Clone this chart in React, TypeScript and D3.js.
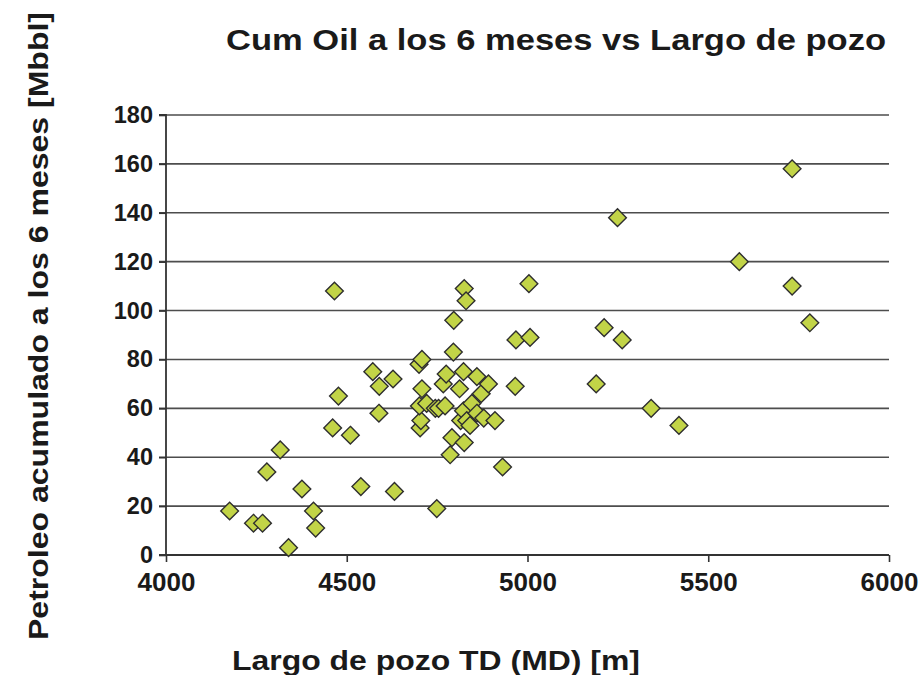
import React, { useEffect, useRef } from "react";
import * as d3 from "d3";

const wellLength: number[] = [
  4176, 4242, 4267, 4279, 4316, 4339, 4376, 4408, 4414, 4461, 4466, 4477, 4510,
  4539, 4572, 4589, 4590, 4628, 4632, 4700, 4703, 4705, 4701, 4708, 4708, 4721,
  4745, 4749, 4754, 4767, 4772, 4775, 4786, 4791, 4795, 4796, 4812, 4815, 4823,
  4823, 4825, 4825, 4830, 4832, 4841, 4846, 4860, 4860, 4872, 4879, 4892, 4910,
  4931, 4966, 4968, 5004, 5007, 5190, 5212, 5249, 5262, 5342, 5419, 5586, 5732,
  5732, 5781,
];
const cumOil: number[] = [
  18, 13, 13, 34, 43, 3, 27, 18, 11, 52, 108, 65, 49,
  28, 75, 58, 69, 72, 26, 78, 52, 55, 61, 80, 68, 62,
  60, 19, 60, 70, 61, 74, 41, 48, 83, 96, 68, 55, 75,
  59, 46, 109, 104, 55, 53, 62, 73, 58, 66, 56, 70, 55,
  36, 69, 88, 111, 89, 70, 93, 138, 88, 60, 53, 120, 158,
  110, 95,
];
const xTicks: number[] = [4000, 4500, 5000, 5500, 6000];
const yTicks: number[] = [0, 20, 40, 60, 80, 100, 120, 140, 160, 180];

const title = "Cum Oil a los 6 meses vs Largo de pozo";
const xTitle = "Largo de pozo TD (MD) [m]";
const yTitle = "Petroleo acumulado a los 6 meses [Mbbl]";

export default function App() {
  const ref = useRef<SVGSVGElement | null>(null);

  useEffect(() => {
    const svg = d3.select(ref.current);
    svg.selectAll("*").remove();
    const W = 922;
    const H = 675;
    const left = 166;
    const right = 889;
    const top = 115;
    const bottom = 555;
    const font = "'Liberation Sans', Arial, Helvetica, sans-serif";

    const x = d3.scaleLinear().domain([4000, 6000]).range([left, right]);
    const y = d3.scaleLinear().domain([0, 180]).range([bottom, top]);

    svg.attr("width", W).attr("height", H);
    svg.append("rect").attr("width", W).attr("height", H).attr("fill", "#fff");

    // gridlines
    const grid = svg.append("g");
    grid
      .selectAll("line")
      .data(yTicks.filter((t) => t > 0))
      .join("line")
      .attr("x1", left - 7)
      .attr("x2", right)
      .attr("y1", (d) => y(d))
      .attr("y2", (d) => y(d))
      .attr("stroke", "#4d4d4d")
      .attr("stroke-width", 1.6);

    // y axis
    const yAxis = svg.append("g").attr("transform", `translate(${left},0)`);
    yAxis.call(
      d3
        .axisLeft(y)
        .tickValues(yTicks)
        .tickSize(7)
        .tickPadding(6)
        .tickFormat((d) => String(d))
    );
    yAxis.select(".domain").attr("stroke", "#333").attr("stroke-width", 1.8).attr("d", `M-7,${top}H0V${bottom}`);
    yAxis.selectAll(".tick line").attr("stroke", "#333").attr("stroke-width", 1.6);
    yAxis
      .selectAll(".tick text")
      .attr("font-family", font)
      .attr("font-weight", "bold")
      .attr("font-size", 23.5)
      .attr("fill", "#1a1a1a");

    // x axis
    const xAxis = svg.append("g").attr("transform", `translate(0,${bottom})`);
    xAxis.call(
      d3
        .axisBottom(x)
        .tickValues(xTicks)
        .tickSize(7)
        .tickPadding(11)
        .tickFormat((d) => String(d))
    );
    xAxis.select(".domain").attr("stroke", "#333").attr("stroke-width", 1.8).attr("d", `M${left - 7},0H${right}`);
    xAxis.selectAll(".tick line").attr("stroke", "#333").attr("stroke-width", 1.6);
    xAxis
      .selectAll(".tick text")
      .attr("font-family", font)
      .attr("font-weight", "bold")
      .attr("font-size", 26)
      .attr("fill", "#1a1a1a");

    // points
    const data = wellLength.map((v, i) => ({ x: v, y: cumOil[i] }));
    const sym = d3.symbol().type(d3.symbolDiamond2).size(200);
    svg
      .append("g")
      .selectAll("path")
      .data(data)
      .join("path")
      .attr("d", sym as any)
      .attr("transform", (d) => `translate(${x(d.x)},${y(d.y)})`)
      .attr("fill", "#c2d447")
      .attr("stroke", "#2e2e2e")
      .attr("stroke-width", 1.4);

    // titles
    svg
      .append("text")
      .attr("x", 556)
      .attr("y", 50)
      .attr("text-anchor", "middle")
      .attr("font-family", font)
      .attr("font-weight", "bold")
      .attr("font-size", 29)
      .attr("fill", "#1a1a1a")
      .attr("textLength", 660)
      .attr("lengthAdjust", "spacingAndGlyphs")
      .text(title);

    svg
      .append("text")
      .attr("x", 436)
      .attr("y", 670)
      .attr("text-anchor", "middle")
      .attr("font-family", font)
      .attr("font-weight", "bold")
      .attr("font-size", 27)
      .attr("fill", "#1a1a1a")
      .attr("textLength", 408)
      .attr("lengthAdjust", "spacingAndGlyphs")
      .text(xTitle);

    svg
      .append("text")
      .attr("transform", `translate(48,326) rotate(-90)`)
      .attr("text-anchor", "middle")
      .attr("font-family", font)
      .attr("font-weight", "bold")
      .attr("font-size", 27)
      .attr("fill", "#1a1a1a")
      .attr("textLength", 628)
      .attr("lengthAdjust", "spacingAndGlyphs")
      .text(yTitle);
  }, []);

  return (
    <svg
      ref={ref}
      style={{ position: "absolute", left: 0, top: 0, display: "block" }}
    />
  );
}
